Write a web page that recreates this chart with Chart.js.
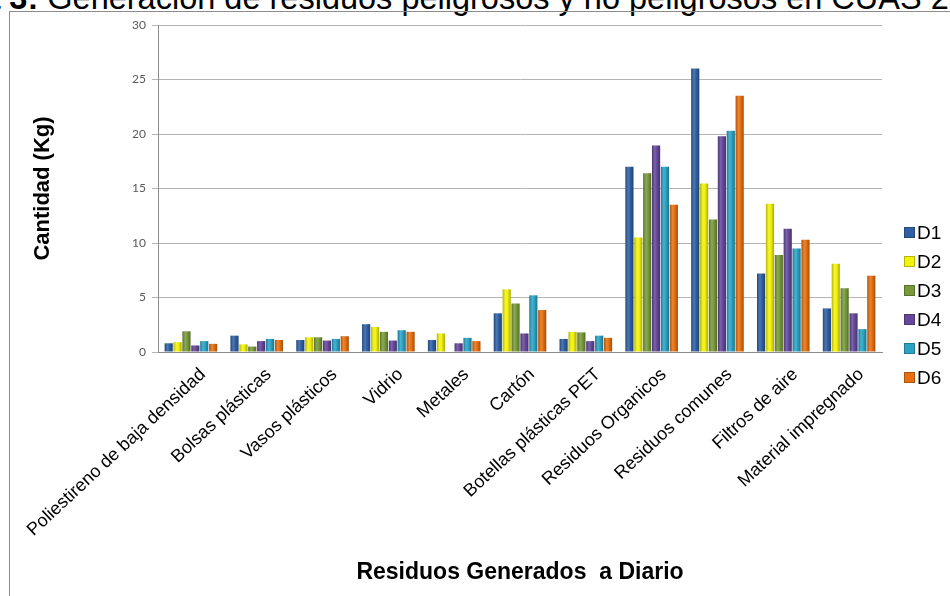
<!DOCTYPE html>
<html>
<head>
<meta charset="utf-8">
<script src="https://cdn.jsdelivr.net/npm/chart.js@4.4.1/dist/chart.umd.min.js"></script>
<style>
  html, body { margin: 0; padding: 0; background: #fff; }
  body { width: 950px; height: 596px; position: relative; overflow: hidden; font-family: "Liberation Sans", Arial, sans-serif; }
  #title { position: absolute; left: -99px; top: -18px; font-size: 32.5px; line-height: 32.5px; white-space: nowrap; color: #000; }
  #frame { position: absolute; left: 9px; top: 11px; width: 960px; height: 600px; border-left: 1px solid #8c8c8c; border-top: 1px solid #8c8c8c; }
  #wrap { position: absolute; left: 0; top: 0; width: 950px; height: 596px; }
  #legend { position: absolute; left: 904px; top: 218px; }
  .item { height: 29px; display: flex; align-items: center; font-size: 19px; color: #000; }
  .box { width: 9px; height: 9px; margin-right: 2px; border: 1px solid rgba(0,0,0,0.25); }
</style>
</head>
<body>
<div id="title"><b>Figura 3:</b> Generación de residuos peligrosos y no peligrosos en CUAS 2014</div>
<div id="frame"></div>
<div id="wrap"><canvas id="chart" width="950" height="596"></canvas></div>
<div id="legend"></div>
<script>
// Categories (x axis)
const categories = [
  'Poliestireno de baja densidad', 'Bolsas plásticas', 'Vasos plásticos', 'Vidrio', 'Metales',
  'Cartón', 'Botellas plásticas PET', 'Residuos Organicos', 'Residuos comunes',
  'Filtros de aire', 'Material impregnado'
];

// Series values (kg per day)
const d1 = [0.8, 1.5, 1.1, 2.55, 1.1, 3.55, 1.2, 17.0, 26.0, 7.2, 4.0];
const d2 = [0.9, 0.7, 1.35, 2.3, 1.7, 5.75, 1.85, 10.5, 15.45, 13.6, 8.1];
const d3 = [1.9, 0.5, 1.35, 1.85, 0, 4.45, 1.8, 16.4, 12.15, 8.9, 5.85];
const d4 = [0.6, 1.0, 1.05, 1.05, 0.8, 1.7, 1.0, 18.95, 19.8, 11.3, 3.55];
const d5 = [1.0, 1.2, 1.2, 2.0, 1.3, 5.2, 1.5, 17.0, 20.3, 9.5, 2.1];
const d6 = [0.75, 1.1, 1.45, 1.85, 1.0, 3.85, 1.3, 13.5, 23.5, 10.3, 7.0];

const seriesNames = ['D1', 'D2', 'D3', 'D4', 'D5', 'D6'];
const seriesColors = ['#2f60a3', '#f2f20a', '#789a3a', '#65489a', '#2ba3c4', '#e6700f'];

// Y axis ticks
const yTicks = [0, 5, 10, 15, 20, 25, 30];

const allSeries = [d1, d2, d3, d4, d5, d6];

// mix a hex colour with white (amt > 0) or black (amt < 0)
function shade(hex, amt) {
  const n = parseInt(hex.slice(1), 16);
  let r = n >> 16, g = (n >> 8) & 255, b = n & 255;
  const t = amt > 0 ? 255 : 0, p = Math.abs(amt);
  r = Math.round(r + (t - r) * p);
  g = Math.round(g + (t - g) * p);
  b = Math.round(b + (t - b) * p);
  return 'rgb(' + r + ',' + g + ',' + b + ')';
}

// cylinder-like shading on each bar, like the Excel original
const barShading = {
  id: 'barShading',
  beforeDatasetsDraw(chart) {
    const c = chart.ctx;
    chart.data.datasets.forEach((ds, i) => {
      const base = seriesColors[i];
      chart.getDatasetMeta(i).data.forEach(bar => {
        const left = bar.x - bar.width / 2;
        const grad = c.createLinearGradient(left, 0, left + bar.width, 0);
        grad.addColorStop(0, shade(base, -0.25));
        grad.addColorStop(0.35, shade(base, 0.15));
        grad.addColorStop(0.6, base);
        grad.addColorStop(1, shade(base, -0.3));
        bar.options = Object.assign({}, bar.options, { backgroundColor: grad });
      });
    });
  }
};

const ctx = document.getElementById('chart').getContext('2d');

new Chart(ctx, {
  type: 'bar',
  data: {
    labels: categories,
    datasets: allSeries.map((vals, i) => ({
      label: seriesNames[i],
      data: vals,
      backgroundColor: seriesColors[i],
      borderWidth: 0,
      categoryPercentage: 0.81,
      barPercentage: 0.92
    }))
  },
  options: {
    responsive: false,
    animation: false,
    layout: { padding: { left: 0, right: 68, top: 25, bottom: 0 } },
    plugins: {
      legend: { display: false },
      tooltip: { enabled: false }
    },
    scales: {
      x: {
        grid: { display: false },
        border: { display: true, color: '#8c8c8c' },
        ticks: {
          color: '#000',
          font: { family: 'Liberation Sans', size: 18 },
          minRotation: 43,
          maxRotation: 43,
          autoSkip: false,
          labelOffset: 12,
          padding: 4
        },
        title: {
          display: true,
          text: 'Residuos Generados  a Diario',
          color: '#000',
          font: { family: 'Liberation Sans', size: 23, weight: 'bold' },
          padding: { top: 0, bottom: 10 }
        },
        afterFit: s => { s.height = 244; }
      },
      y: {
        min: 0,
        max: 30,
        afterBuildTicks: s => { s.ticks = yTicks.map(v => ({ value: v })); },
        grid: { color: '#b4b4b4', tickLength: 6 },
        border: { display: true, color: '#8c8c8c' },
        ticks: {
          color: '#595959',
          font: { family: 'Lato', size: 12 },
          padding: 6
        },
        title: {
          display: true,
          text: 'Cantidad (Kg)',
          color: '#000',
          font: { family: 'Liberation Sans', size: 22, weight: 'bold' },
          padding: { top: 30, bottom: 0 }
        },
        afterFit: s => { s.width = 158; }
      }
    }
  },
  plugins: [barShading]
});

// Legend
const legend = document.getElementById('legend');
seriesNames.forEach((name, i) => {
  const item = document.createElement('div');
  item.className = 'item';
  item.innerHTML = '<span class="box" style="background:' + seriesColors[i] + '"></span>' + name;
  legend.appendChild(item);
});
</script>
</body>
</html>
